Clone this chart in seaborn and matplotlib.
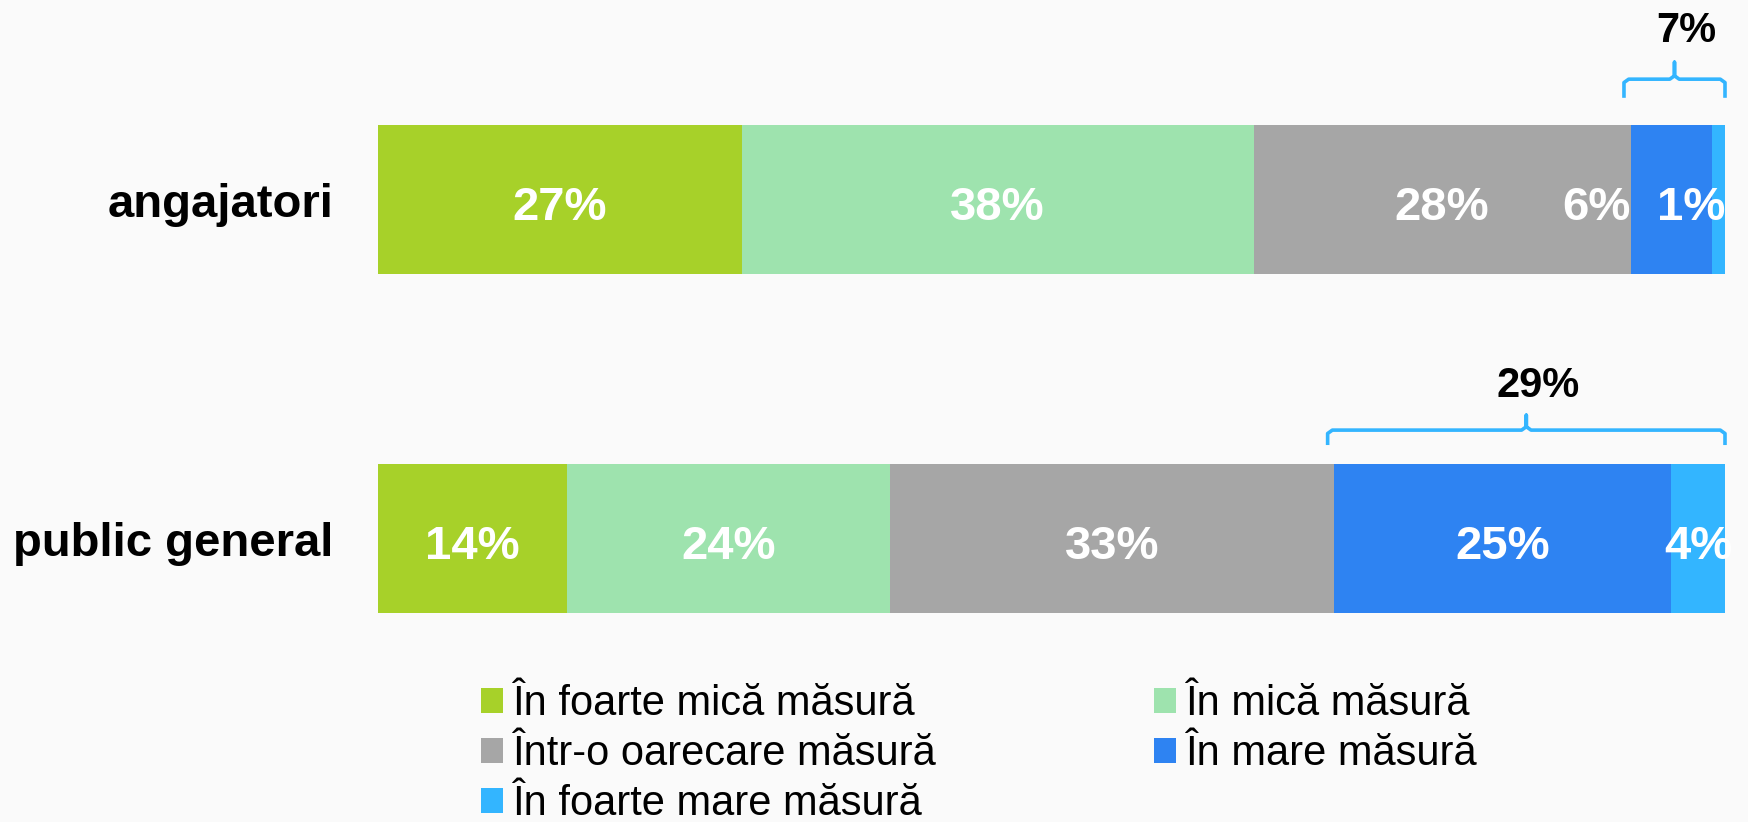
import matplotlib
matplotlib.use('Agg')
import matplotlib.pyplot as plt
import numpy as np
import pandas as pd
import seaborn as sns

groups = ['angajatori', 'public general']
categories = ['În foarte mică măsură', 'În mică măsură', 'Într-o oarecare măsură',
              'În mare măsură', 'În foarte mare măsură']
angajatori = [27, 38, 28, 6, 1]
public_general = [14, 24, 33, 25, 4]
colors = ['#A7D129', '#9EE3AE', '#A6A6A6', '#2E83F2', '#33B5FF']
brace_color = '#33B5FF'

sns.set_theme(style='white')
plt.rcParams['font.family'] = ['Liberation Sans', 'DejaVu Sans']
plt.rcParams['text.color'] = 'black'

values = np.array([angajatori, public_general])
cum = values.cumsum(axis=1)

fig = plt.figure(figsize=(17.48, 8.22), dpi=100, facecolor='#FAFAFA')
ax = fig.add_axes([378 / 1748, 1 - 660 / 822, 1347 / 1748, 660 / 822])
ax.set_facecolor('#FAFAFA')

# stacked bars: draw the cumulative totals from the largest down
for i in range(len(categories) - 1, -1, -1):
    df = pd.DataFrame({'grup': groups, 'total': cum[:, i]})
    sns.barplot(data=df, x='total', y='grup', orient='h', color=colors[i],
                width=0.44, saturation=1, linewidth=0, ax=ax)

ax.set_xlim(0, 100)
ax.set_ylim(1.358, -0.5885)
ax.set_xlabel('')
ax.set_ylabel('')
ax.set_xticks([])
ax.tick_params(axis='y', length=0, pad=32)
ax.set_yticks(range(len(groups)))
ax.set_yticklabels(groups, fontsize=34, fontweight='bold', color='black')
for s in ax.spines.values():
    s.set_visible(False)

# etichete in segmente
special = {(0, 3): ('left', 'right'), (0, 4): ('right', 'right')}
for r in range(len(groups)):
    for c in range(len(categories)):
        left = cum[r, c] - values[r, c]
        right = cum[r, c]
        where, ha = special.get((r, c), ('center', 'center'))
        x = {'left': left, 'right': right, 'center': (left + right) / 2}[where]
        ax.text(x, r + 0.06, f'{values[r, c]}%', ha=ha, va='baseline', color='white',
                fontsize=34, fontweight='bold')

# acolade pentru "mare + foarte mare"
brace_y = [(-0.30, -0.355, -0.405, -0.465), (-0.276, -0.32, -0.364, -0.417)]
for r in range(len(groups)):
    x0 = cum[r, 2] - 0.5
    x1 = 100.0
    xm = (x0 + x1) / 2
    y_end, y_h, y_tip, y_txt = [r + d for d in brace_y[r]]
    k = 0.35
    xs = [x0, x0, x0 + k, xm - k, xm, xm, xm, xm + k, x1 - k, x1, x1]
    ys = [y_end, y_h + 0.01, y_h, y_h, y_h - 0.01, y_tip, y_h - 0.01, y_h, y_h, y_h + 0.01, y_end]
    ax.plot(xs, ys, color=brace_color, lw=2.6, solid_capstyle='butt',
            solid_joinstyle='round', clip_on=False)
    total = values[r, 3] + values[r, 4]
    ax.text(xm + 0.9, y_txt, f'{total}%', ha='center', va='baseline',
            fontsize=30, fontweight='bold', color='black')

# legenda
patches = [plt.Rectangle((0, 0), 1, 1, color=col, lw=0) for col in colors]
order = [0, 2, 4, 1, 3]
fig.legend([patches[i] for i in order], [categories[i] for i in order],
           loc='upper left', bbox_to_anchor=(481 / 1748, 1 - 684 / 822),
           ncol=2, frameon=False, fontsize=30, labelcolor='black',
           handlelength=0.53, handleheight=0.53,
           handletextpad=0.24, columnspacing=5.2, labelspacing=0.24, borderpad=0,
           borderaxespad=0)

fig.savefig('out.png', dpi=100, facecolor=fig.get_facecolor())
